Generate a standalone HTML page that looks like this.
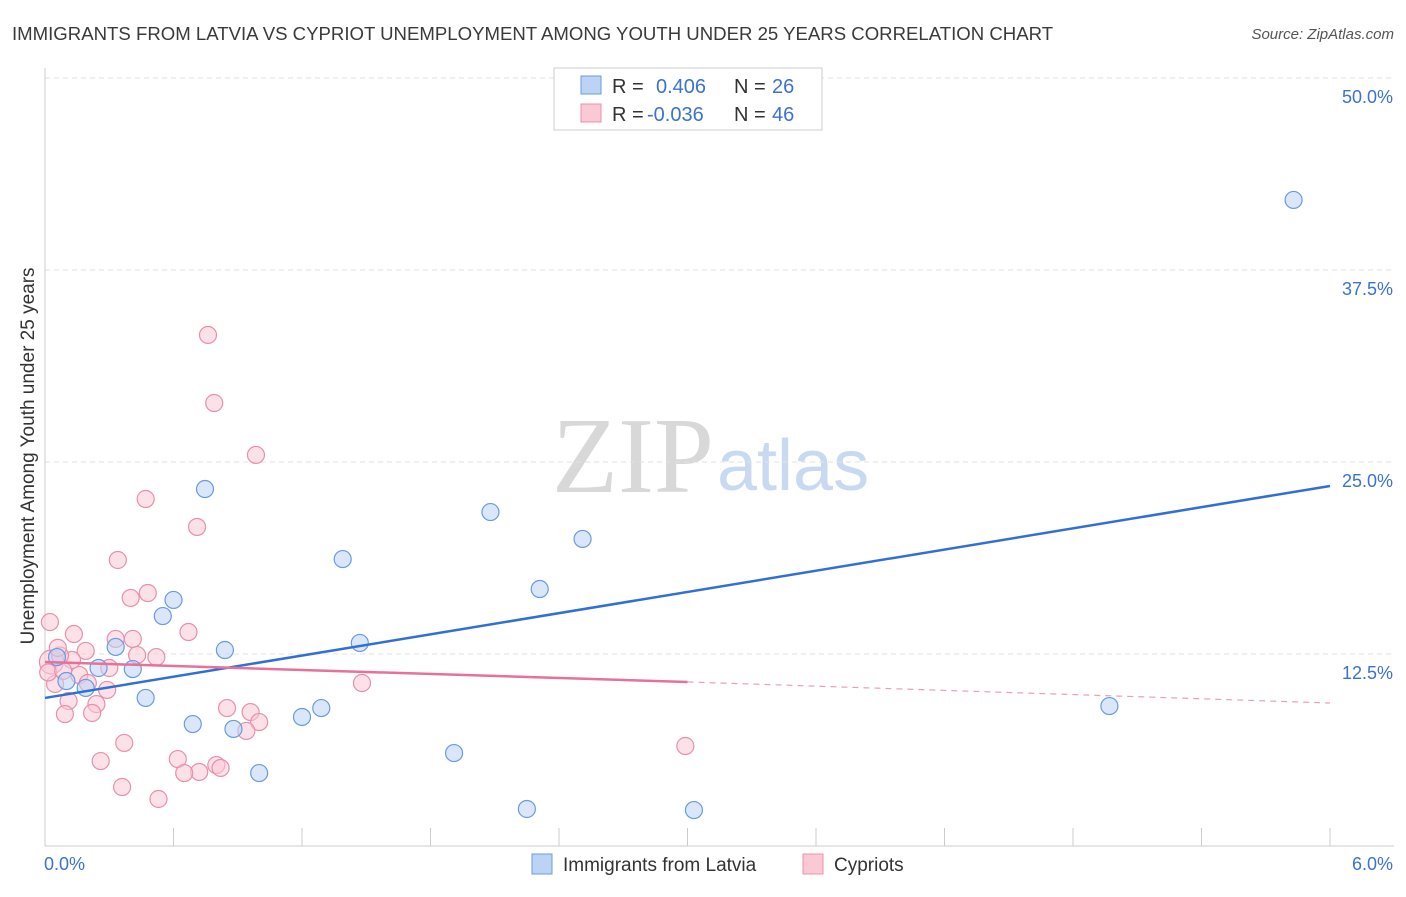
<!DOCTYPE html>
<html><head><meta charset="utf-8"><style>
body{margin:0;background:#fff;font-family:"Liberation Sans",sans-serif;}
svg text{font-family:"Liberation Sans",sans-serif;}
</style></head><body>
<svg id="c" width="1406" height="892">
<text x="12" y="40" font-size="18.6" fill="#3a3a3a">IMMIGRANTS FROM LATVIA VS CYPRIOT UNEMPLOYMENT AMONG YOUTH UNDER 25 YEARS CORRELATION CHART</text>
<text x="1394" y="39" font-size="15" fill="#555" font-style="italic" text-anchor="end">Source: ZipAtlas.com</text>
<text x="714" y="492" font-size="108" fill="#d8d8d8" text-anchor="end" style="font-family:'Liberation Serif',serif">ZIP</text>
<text x="717" y="490" font-size="72" fill="#c9daf0">atlas</text>
<text transform="translate(34,456) rotate(-90)" font-size="19" fill="#333" text-anchor="middle">Unemployment Among Youth under 25 years</text>
<g id="grid"></g><g id="marks"></g>
<g>
<rect x="554" y="68" width="268" height="62" fill="#fff" stroke="#ccc"/>
<rect x="581" y="76" width="20" height="18" fill="#bcd3f5" stroke="#6a9be0"/>
<text x="612" y="93" font-size="20" fill="#333">R = </text><text x="656" y="93" font-size="20" fill="#3b72d4">0.406</text>
<text x="734" y="93" font-size="20" fill="#333">N = </text><text x="772" y="93" font-size="20" fill="#3b72d4">26</text>
<rect x="581" y="104" width="20" height="18" fill="#fbc8d6" stroke="#e890aa"/>
<text x="612" y="121" font-size="20" fill="#333">R = </text><text x="647" y="121" font-size="20" fill="#3b72d4">-0.036</text>
<text x="734" y="121" font-size="20" fill="#333">N = </text><text x="772" y="121" font-size="20" fill="#3b72d4">46</text>
</g>
<g>
<rect x="532" y="854" width="20" height="20" fill="#bcd3f5" stroke="#6a9be0"/>
<text x="563" y="871" font-size="19" fill="#333">Immigrants from Latvia</text>
<rect x="803" y="854" width="20" height="20" fill="#fbc8d6" stroke="#e890aa"/>
<text x="834" y="871" font-size="19" fill="#333">Cypriots</text>
</g>
</svg>
<script>
const xTicks=[0,6];
const yTicks=[12.5,25,37.5,50];
const latviaX=[5.83,0.747,2.08,2.51,1.39,2.31,0.60,0.55,1.47,0.84,0.33,0.056,0.25,0.41,0.10,0.19,0.47,4.97,1.29,1.20,0.69,0.88,1.91,1.00,2.25,3.03];
const latviaY=[42.06,23.24,21.74,19.99,18.68,16.73,16.02,14.97,13.22,12.76,12.96,12.30,11.59,11.52,10.74,10.29,9.64,9.11,8.98,8.40,7.94,7.62,6.05,4.75,2.41,2.34];
const cypX=[0.761,0.79,0.985,0.47,0.71,0.34,0.48,0.40,0.023,0.135,0.67,0.41,0.33,0.19,0.52,0.43,0.126,0.03,0.30,0.16,0.047,0.20,0.29,1.48,0.11,0.24,0.85,0.96,0.093,0.22,1.00,0.94,0.37,2.99,0.62,0.26,0.80,0.82,0.72,0.65,0.36,0.53,0.07,0.015,0.085,0.06];
const cypY=[33.27,28.84,25.46,22.59,20.77,18.62,16.47,16.15,14.58,13.80,13.93,13.48,13.48,12.70,12.30,12.43,12.11,11.98,11.59,11.13,10.55,10.61,10.16,10.61,9.44,9.24,8.98,8.72,8.59,8.66,8.07,7.49,6.71,6.51,5.66,5.53,5.27,5.08,4.82,4.75,3.84,3.06,12.4,11.3,11.4,12.9];
const latviaTrend=[9.64,23.44];
const cypTrend=[11.98,10.68,9.31];
const NS='http://www.w3.org/2000/svg';
const sx=v=>45+v/6*1285, sy=v=>846-v/12.5*192;
function mk(tag,attrs,parent){const e=document.createElementNS(NS,tag);for(const k in attrs)e.setAttribute(k,attrs[k]);parent.appendChild(e);return e;}
const g=document.getElementById('grid'), m=document.getElementById('marks');
yTicks.forEach(t=>{
 const l=mk('line',{x1:45,x2:1394,y1:sy(t),y2:sy(t),stroke:'#e2e2e2','stroke-dasharray':'5,4'},g);
 
 
 const tx=mk('text',{x:1393,y:sy(t)+25,'font-size':18,fill:'#3b72d4','text-anchor':'end'},g);tx.textContent=t.toFixed(1)+'%';
 
 
});
mk('line',{x1:45,x2:45,y1:68,y2:846,stroke:'#ccc'},g);
mk('line',{x1:45,x2:1394,y1:846,y2:846,stroke:'#ccc'},g);
for(let i=0;i<=10;i++){const x=sx(i*0.6);mk('line',{x1:x,x2:x,y1:828,y2:846,stroke:'#ccc'},g);}
xTicks.forEach((t,i)=>{
 const tx=mk('text',{x:i==0?44:1393,y:870,'font-size':18,fill:'#3b72d4','text-anchor':i==0?'start':'end'},g);tx.textContent=t.toFixed(1)+'%';
 
 
});
cypX.forEach((x,i)=>{
 const c=mk('circle',{cx:sx(x),cy:sy(cypY[i]),r:i==17?12:8.5,fill:'#fbc8d6','fill-opacity':0.55,stroke:'#e890aa','stroke-width':1.2},m);
 
 
});
latviaX.forEach((x,i)=>{
 const c=mk('circle',{cx:sx(x),cy:sy(latviaY[i]),r:8.5,fill:'#bcd3f5','fill-opacity':0.55,stroke:'#6a9be0','stroke-width':1.2},m);
 
 
});
let t=mk('line',{x1:sx(0),y1:sy(latviaTrend[0]),x2:sx(6),y2:sy(latviaTrend[1]),stroke:'#2f6fd6','stroke-width':2.5},m);


t=mk('line',{x1:sx(0),y1:sy(cypTrend[0]),x2:sx(3),y2:sy(cypTrend[1]),stroke:'#e8709a','stroke-width':2.5},m);


t=mk('line',{x1:sx(3),y1:sy(cypTrend[1]),x2:sx(6),y2:sy(cypTrend[2]),stroke:'#e8a0b8','stroke-width':1.2,'stroke-dasharray':'6,5'},m);


</script>
</body></html>
